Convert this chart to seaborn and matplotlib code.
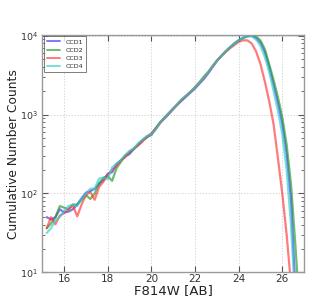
import numpy as np
import pandas as pd
import matplotlib
matplotlib.use("Agg")
import matplotlib.pyplot as plt
import seaborn as sns

# magnitude grid (F814W, AB)
mag = [15.2, 15.4, 15.6, 15.8, 16.0, 16.2, 16.4, 16.6, 16.8, 17.0,
       17.2, 17.4, 17.6, 17.8, 18.0, 18.2, 18.4, 18.6, 18.8, 19.0,
       19.2, 19.4, 19.6, 19.8, 20.0, 20.2, 20.4, 20.6, 20.8, 21.0,
       21.2, 21.4, 21.6, 21.8, 22.0, 22.2, 22.4, 22.6, 22.8, 23.0,
       23.2, 23.4, 23.6, 23.8, 24.0, 24.2, 24.4, 24.6, 24.8, 25.0,
       25.2, 25.4, 25.6, 25.8, 26.0, 26.2, 26.4, 26.6, 26.8]

# log10 of cumulative counts
log_ccd1 = [1.70, 1.67, 1.70, 1.80, 1.76, 1.77, 1.80, 1.86, 1.94, 2.01,
            2.03, 2.06, 2.12, 2.17, 2.25, 2.27, 2.37, 2.42, 2.47, 2.50,
            2.57, 2.62, 2.68, 2.72, 2.74, 2.82, 2.90, 2.95, 3.01, 3.07,
            3.13, 3.18, 3.23, 3.28, 3.33, 3.39, 3.45, 3.52, 3.60, 3.68,
            3.74, 3.80, 3.85, 3.90, 3.94, 3.97, 3.99, 4.00, 3.97, 3.91,
            3.79, 3.60, 3.38, 3.15, 2.88, 2.50, 1.92, 0.80, 0.30]
log_ccd2 = [1.56, 1.62, 1.70, 1.84, 1.82, 1.80, 1.86, 1.86, 1.92, 1.98,
            1.93, 2.00, 2.13, 2.20, 2.22, 2.16, 2.32, 2.40, 2.48, 2.52,
            2.56, 2.62, 2.67, 2.71, 2.76, 2.83, 2.90, 2.96, 3.02, 3.08,
            3.13, 3.19, 3.24, 3.29, 3.35, 3.41, 3.48, 3.54, 3.61, 3.68,
            3.74, 3.80, 3.85, 3.90, 3.94, 3.97, 4.00, 4.01, 3.99, 3.94,
            3.83, 3.64, 3.44, 3.22, 2.97, 2.62, 2.12, 1.35, 0.50]
log_ccd3 = [1.56, 1.70, 1.61, 1.72, 1.75, 1.80, 1.85, 1.71, 1.86, 1.98,
            2.02, 1.92, 2.08, 2.15, 2.24, 2.30, 2.35, 2.42, 2.46, 2.53,
            2.57, 2.61, 2.66, 2.72, 2.76, 2.82, 2.89, 2.96, 3.01, 3.07,
            3.13, 3.19, 3.24, 3.29, 3.34, 3.40, 3.46, 3.53, 3.61, 3.68,
            3.74, 3.79, 3.84, 3.88, 3.92, 3.94, 3.94, 3.90, 3.80, 3.64,
            3.42, 3.17, 2.88, 2.45, 2.00, 1.48, 0.85, 0.30, 0.30]
log_ccd4 = [1.50, 1.56, 1.66, 1.70, 1.78, 1.84, 1.86, 1.84, 1.93, 2.00,
            2.06, 2.06, 2.19, 2.20, 2.18, 2.33, 2.38, 2.42, 2.49, 2.54,
            2.57, 2.64, 2.68, 2.73, 2.75, 2.81, 2.90, 2.96, 3.02, 3.07,
            3.14, 3.20, 3.24, 3.29, 3.34, 3.40, 3.47, 3.53, 3.61, 3.68,
            3.74, 3.80, 3.85, 3.90, 3.94, 3.97, 3.99, 3.99, 3.95, 3.87,
            3.73, 3.54, 3.30, 3.05, 2.75, 2.30, 1.60, 0.60, 0.30]

ccd_names = ["CCD1", "CCD2", "CCD3", "CCD4"]
ccd_colors = ["#3333ff", "#229922", "#ff3333", "#33cccc"]

frames = []
for name, logs in zip(ccd_names, [log_ccd1, log_ccd2, log_ccd3, log_ccd4]):
    frames.append(pd.DataFrame({"mag": mag, "counts": 10 ** np.array(logs), "ccd": name}))
df = pd.concat(frames, ignore_index=True)

sns.set_style("ticks")
plt.rcParams['font.family'] = ['DejaVu Sans']

fig = plt.figure(figsize=(3.36, 3.03), dpi=100)
ax = fig.add_axes([0.126, 0.101, 0.779, 0.784])

sns.lineplot(data=df, x="mag", y="counts", hue="ccd", palette=ccd_colors,
             linewidth=1.6, alpha=0.65, ax=ax, sort=False, estimator=None)

ax.set_yscale("log")
ax.set_xlim(15, 27)
ax.set_ylim(10, 10 ** 4.01)
ax.set_xticks([16, 18, 20, 22, 24, 26])
ax.grid(True, which="major", linestyle=(0, (1.5, 2)), color="#cccccc", linewidth=0.6)

ax.tick_params(direction="in", which="both", top=True, right=True,
               colors="#555555", labelcolor="#333333")
ax.tick_params(which="major", length=4)
ax.tick_params(which="minor", length=2)
ax.tick_params(axis="x", pad=1.5, labelsize=7.5)
ax.tick_params(axis="y", pad=3, labelsize=6.8)
for sp in ax.spines.values():
    sp.set_color("#999999")
    sp.set_linewidth(1.0)

ax.set_xlabel("F814W [AB]", fontsize=9.5, color="#222222", labelpad=-0.5)
ax.set_ylabel("Cumulative Number Counts", fontsize=8.8, color="#222222")
ax.yaxis.set_label_coords(-0.085, 0.5)

leg = ax.legend(loc="upper left", fontsize=4.5, frameon=True, fancybox=False,
                borderpad=0.5, handlelength=2.2, labelspacing=0.45,
                borderaxespad=0.2)
leg.get_frame().set_edgecolor("#444444")
leg.get_frame().set_linewidth(0.6)
for line in leg.get_lines():
    line.set_linewidth(1.4)

fig.savefig("out.png", dpi=100)
